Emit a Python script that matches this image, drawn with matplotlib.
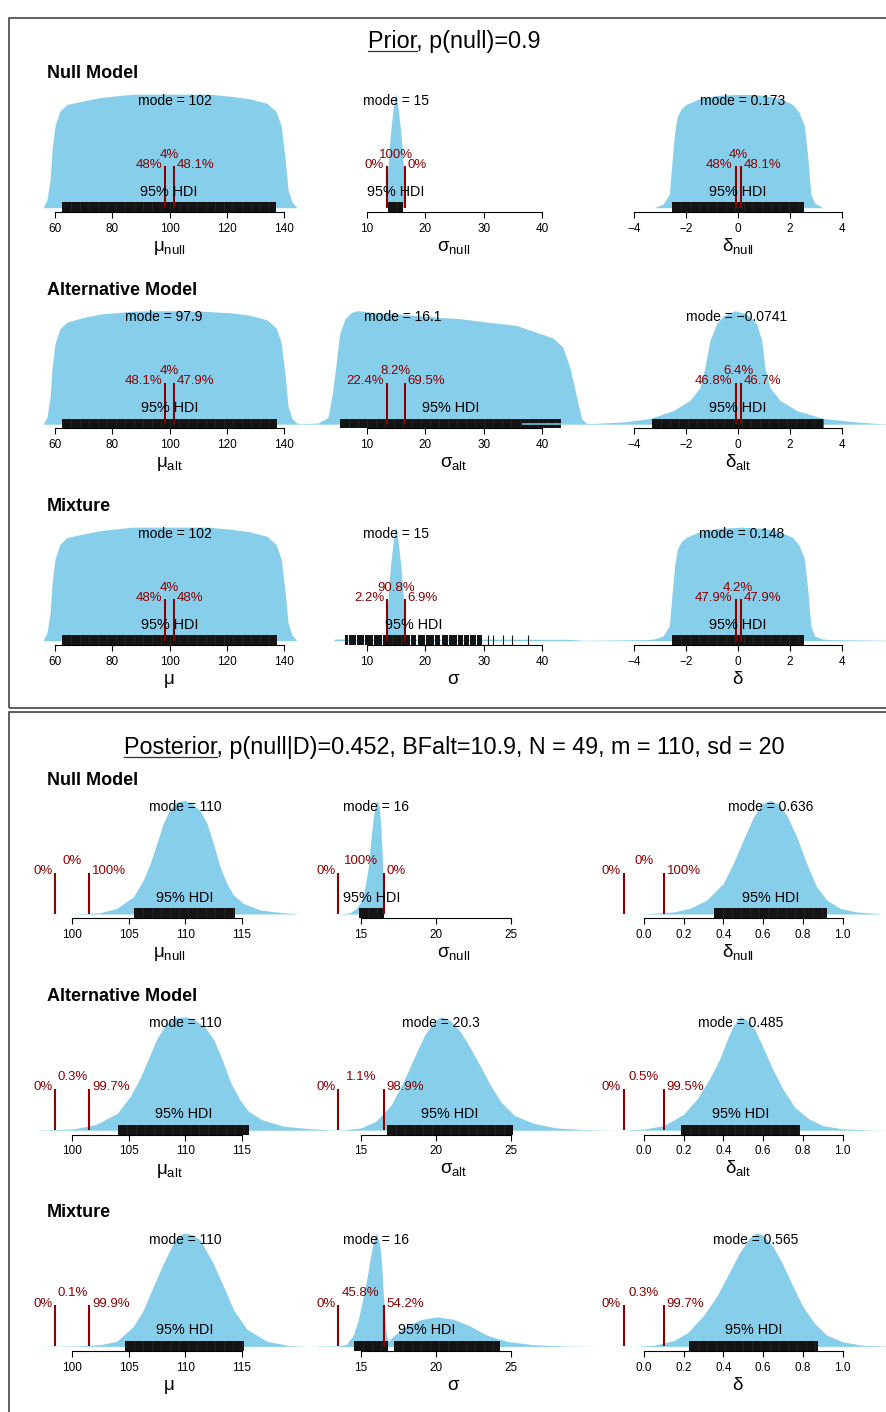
import matplotlib
matplotlib.use("Agg")
import matplotlib.pyplot as plt
from matplotlib.lines import Line2D
from matplotlib.patches import Rectangle
import numpy as np

plt.rcParams['font.family'] = ['Liberation Sans', 'DejaVu Sans']
plt.rcParams['mathtext.fontset'] = 'custom'
plt.rcParams['mathtext.rm'] = 'Liberation Sans'
plt.rcParams['mathtext.it'] = 'Liberation Sans'

# ---------------- data ----------------
# heights are relative to the tallest point of each density (peak = 1)
mu_rope = [98.5, 101.5]
sigma_rope = [13.5, 16.5]
delta_rope = [-0.1, 0.1]

prior_mu_ticks = [60, 80, 100, 120, 140]
prior_sigma_ticks = [10, 20, 30, 40]
prior_delta_ticks = [-4, -2, 0, 2, 4]
post_mu_ticks = [100, 105, 110, 115]
post_sigma_ticks = [15, 20, 25]
post_delta_ticks = [0.0, 0.2, 0.4, 0.6, 0.8, 1.0]

# prior, null model
pr_null_mu_x = [55.8, 57.2, 58.3, 59.0, 60.0, 61.7, 64.2, 69.8, 75.7, 87.0, 100.0, 114.0,
                122.0, 128.0, 134.0, 137.2, 139.0, 140.4, 141.4, 142.8, 144.5]
pr_null_mu_h = [0, 0.07, 0.25, 0.52, 0.72, 0.85, 0.91, 0.94, 0.97, 1.0, 1.0, 1.0,
                0.98, 0.96, 0.92, 0.85, 0.72, 0.43, 0.16, 0.05, 0]
pr_null_mu_hdi = [(62.4, 137.3)]
pr_null_mu_mode = 102
pr_null_mu_pct = ['48%', '4%', '48.1%']

pr_null_sigma_x = [13.45, 13.55, 13.8, 14.15, 14.5, 14.7, 14.85, 14.95, 15.05, 15.2, 15.4, 15.75,
                   16.1, 16.35, 16.45]
pr_null_sigma_h = [0, 0.3, 0.5, 0.7, 0.86, 0.94, 0.985, 1.0, 0.985, 0.94, 0.86, 0.7,
                   0.5, 0.3, 0]
pr_null_sigma_hdi = [(13.6, 16.15)]
pr_null_sigma_mode = 15
pr_null_sigma_pct = ['0%', '100%', '0%']

pr_null_delta_x = [-3.25, -2.9, -2.65, -2.55, -2.45, -2.35, -2.2, -2.0, -1.5, -0.8, 0.2, 1.0,
                   1.6, 2.1, 2.35, 2.55, 2.68, 2.8, 2.95, 3.25]
pr_null_delta_h = [0, 0.03, 0.12, 0.4, 0.65, 0.8, 0.87, 0.91, 0.96, 0.99, 1.0, 0.99,
                   0.96, 0.91, 0.84, 0.72, 0.45, 0.12, 0.04, 0]
pr_null_delta_hdi = [(-2.54, 2.53)]
pr_null_delta_mode = 0.173
pr_null_delta_pct = ['48%', '4%', '48.1%']

# prior, alternative model
pr_alt_mu_x = [55.8, 57.2, 58.3, 59.0, 60.0, 61.7, 64.2, 69.8, 75.7, 87.0, 97.9, 112.0,
               122.0, 128.0, 134.0, 137.2, 139.0, 140.4, 141.4, 142.8, 144.5, 146.0]
pr_alt_mu_h = [0, 0.06, 0.24, 0.5, 0.71, 0.84, 0.9, 0.94, 0.97, 0.995, 1.0, 0.995,
               0.98, 0.96, 0.92, 0.85, 0.72, 0.43, 0.16, 0.05, 0.01, 0]
pr_alt_mu_hdi = [(62.3, 137.6)]
pr_alt_mu_mode = 97.9
pr_alt_mu_pct = ['48.1%', '4%', '47.9%']

pr_alt_sigma_x = [-1.3, 1.7, 3.4, 4.2, 4.9, 5.4, 6.3, 7.4, 8.5, 12.0, 15.7, 19.0, 22.5, 25.9,
                  30.5, 35.6, 38.4, 41.8, 43.5, 44.7, 45.9, 46.7, 47.6, 50.0]
pr_alt_sigma_h = [0.005, 0.01, 0.06, 0.29, 0.59, 0.8, 0.93, 0.985, 1.0, 0.98, 0.97, 0.955, 0.94, 0.93,
                  0.9, 0.87, 0.82, 0.76, 0.68, 0.5, 0.23, 0.05, 0.005, 0]
pr_alt_sigma_hdi = [(5.45, 43.2)]
pr_alt_sigma_gap = [36.6, 43.2]
pr_alt_sigma_mode = 16.1
pr_alt_sigma_pct = ['22.4%', '8.2%', '69.5%']

pr_alt_delta_x = [-5.9, -5.71, -4.42, -3.4, -2.5, -1.86, -1.48, -1.28, -1.09, -0.83, -0.57, -0.12,
                  0.33, 0.71, 0.91, 1.03, 1.23, 1.61, 2.26, 3.28, 4.57, 5.46, 5.9]
pr_alt_delta_h = [0, 0.005, 0.02, 0.05, 0.12, 0.21, 0.32, 0.5, 0.735, 0.885, 0.955, 1.0,
                  0.97, 0.885, 0.735, 0.5, 0.32, 0.21, 0.12, 0.05, 0.02, 0.005, 0]
pr_alt_delta_hdi = [(-3.33, 3.28)]
pr_alt_delta_mode = -0.0741
pr_alt_delta_pct = ['46.8%', '6.4%', '46.7%']

# prior, mixture
pr_mix_mu_x = [55.8, 57.2, 58.3, 59.0, 60.0, 61.7, 64.2, 69.8, 75.7, 87.0, 102.0, 114.0,
               122.0, 128.0, 134.0, 137.2, 139.0, 140.4, 141.4, 142.8, 144.5]
pr_mix_mu_h = [0, 0.07, 0.25, 0.51, 0.72, 0.85, 0.91, 0.94, 0.97, 1.0, 1.0, 1.0,
               0.98, 0.96, 0.92, 0.85, 0.72, 0.43, 0.16, 0.05, 0]
pr_mix_mu_hdi = [(62.4, 137.5)]
pr_mix_mu_mode = 102
pr_mix_mu_pct = ['48%', '4%', '48%']

pr_mix_sigma_x = [4.3, 4.6, 13.3, 13.45, 13.55, 13.8, 14.15, 14.5, 14.7, 14.85, 14.95, 15.05,
                  15.2, 15.4, 15.75, 16.1, 16.35, 16.45, 16.6, 44.5, 48.0]
pr_mix_sigma_h = [0, 0.015, 0.015, 0.02, 0.3, 0.5, 0.7, 0.86, 0.94, 0.985, 1.0, 0.985,
                  0.94, 0.86, 0.7, 0.5, 0.3, 0.02, 0.015, 0.012, 0]
pr_mix_sigma_hdi = [(6.3, 6.8), (7.0, 8.1), (8.3, 9.5), (9.7, 11.0), (11.2, 12.6), (12.8, 17.4),
                    (17.6, 18.5), (18.7, 19.9), (20.1, 21.5), (21.7, 22.6), (22.8, 23.9),
                    (24.1, 25.4), (25.6, 26.4), (26.6, 27.5), (27.7, 28.7), (28.9, 29.65)]
pr_mix_sigma_rug = [30.8, 31.6, 33.3, 34.8, 37.6]
pr_mix_sigma_mode = 15
pr_mix_sigma_pct = ['2.2%', '90.8%', '6.9%']

pr_mix_delta_x = [-5.9, -3.5, -3.25, -2.9, -2.65, -2.55, -2.45, -2.35, -2.2, -2.0, -1.5, -0.8, 0.148,
                  1.0, 1.6, 2.1, 2.35, 2.55, 2.68, 2.8, 2.95, 3.25, 3.5, 5.9]
pr_mix_delta_h = [0.003, 0.01, 0.015, 0.04, 0.13, 0.4, 0.65, 0.8, 0.87, 0.91, 0.96, 0.99, 1.0,
                  0.99, 0.96, 0.91, 0.84, 0.72, 0.45, 0.13, 0.04, 0.015, 0.01, 0.003]
pr_mix_delta_hdi = [(-2.54, 2.54)]
pr_mix_delta_mode = 0.148
pr_mix_delta_pct = ['47.9%', '4.2%', '47.9%']

# posterior, null model
po_null_mu_x = [99.65, 102.46, 103.94, 105.41, 106.3, 106.9, 107.49, 108.07, 108.67, 109.26, 109.94,
                110.6, 111.33, 111.93, 112.51, 113.1, 113.7, 114.29, 115.17, 116.65, 118.7, 120.2]
po_null_mu_h = [0, 0.011, 0.05, 0.15, 0.3, 0.445, 0.62, 0.8, 0.93, 0.985, 1.0,
                0.975, 0.91, 0.8, 0.62, 0.415, 0.27, 0.167, 0.094, 0.035, 0.011, 0]
po_null_mu_hdi = [(105.5, 114.4)]
po_null_mu_mode = 110
po_null_mu_pct = ['0%', '0%', '100%']

po_null_sigma_x = [13.5, 14.27, 14.71, 15.05, 15.27, 15.49, 15.65, 15.82, 15.98, 16.08, 16.22,
                   16.33, 16.42, 16.48, 16.55]
po_null_sigma_h = [0, 0.011, 0.05, 0.123, 0.24, 0.415, 0.65, 0.853, 0.97, 1.0, 0.94,
                   0.74, 0.5, 0.21, 0]
po_null_sigma_hdi = [(14.89, 16.53)]
po_null_sigma_mode = 16
po_null_sigma_pct = ['0%', '100%', '0%']

po_null_delta_x = [-0.02, 0.149, 0.233, 0.317, 0.4, 0.45, 0.5, 0.551, 0.593, 0.635, 0.676, 0.719,
                   0.769, 0.819, 0.869, 0.92, 0.986, 1.07, 1.188]
po_null_delta_h = [0, 0.018, 0.05, 0.123, 0.27, 0.445, 0.65, 0.853, 0.97, 1.0, 0.97, 0.87,
                   0.68, 0.445, 0.24, 0.123, 0.05, 0.018, 0.003]
po_null_delta_hdi = [(0.352, 0.92)]
po_null_delta_mode = 0.636
po_null_delta_pct = ['0%', '0%', '100%']

# posterior, alternative model
po_alt_mu_x = [96.5, 100.1, 102.1, 104.0, 105.15, 105.94, 106.71, 107.47, 108.26, 109.03, 110.0,
               110.79, 111.74, 112.53, 113.29, 114.06, 114.85, 115.62, 116.77, 118.71, 121.4, 123.4]
po_alt_mu_h = [0, 0.011, 0.05, 0.15, 0.3, 0.445, 0.62, 0.8, 0.93, 0.985, 1.0,
               0.975, 0.91, 0.8, 0.62, 0.415, 0.27, 0.167, 0.094, 0.035, 0.011, 0]
po_alt_mu_hdi = [(104.05, 115.7)]
po_alt_mu_mode = 110
po_alt_mu_pct = ['0%', '0.3%', '99.7%']

po_alt_sigma_x = [13.0, 14.0, 15.0, 16.0, 17.0, 17.8, 18.5, 19.2, 19.8, 20.3, 20.9, 21.6, 22.3,
                  23.0, 23.6, 24.3, 25.2, 26.5, 28.0, 30.0, 32.0]
po_alt_sigma_h = [0, 0.005, 0.02, 0.08, 0.22, 0.42, 0.63, 0.83, 0.95, 1.0, 0.97, 0.87, 0.72,
                  0.55, 0.4, 0.25, 0.13, 0.06, 0.02, 0.005, 0]
po_alt_sigma_hdi = [(16.73, 25.1)]
po_alt_sigma_mode = 20.3
po_alt_sigma_pct = ['0%', '1.1%', '98.9%']

po_alt_delta_x = [-0.1, 0.0, 0.1, 0.2, 0.27, 0.33, 0.38, 0.42, 0.45, 0.485, 0.52, 0.56, 0.6,
                  0.65, 0.7, 0.76, 0.83, 0.9, 1.0, 1.15, 1.25]
po_alt_delta_h = [0, 0.01, 0.04, 0.14, 0.28, 0.45, 0.62, 0.8, 0.92, 1.0, 0.97, 0.88, 0.73,
                  0.53, 0.36, 0.2, 0.1, 0.04, 0.012, 0.002, 0]
po_alt_delta_hdi = [(0.187, 0.785)]
po_alt_delta_mode = 0.485
po_alt_delta_pct = ['0%', '0.5%', '99.5%']

# posterior, mixture
po_mix_mu_x = [96.0, 100.5, 102.46, 103.94, 105.4, 106.3, 107.19, 108.07, 108.96, 109.45, 109.94,
               110.6, 111.33, 112.5, 113.4, 114.3, 115.5, 117.25, 119.3, 121.0]
po_mix_mu_h = [0, 0.004, 0.015, 0.045, 0.175, 0.32, 0.53, 0.73, 0.91, 0.975, 1.0,
               0.985, 0.94, 0.73, 0.53, 0.32, 0.15, 0.045, 0.006, 0]
po_mix_mu_hdi = [(104.7, 115.2)]
po_mix_mu_mode = 110
po_mix_mu_pct = ['0%', '0.1%', '99.9%']

po_mix_sigma_x = [12.0, 13.5, 14.05, 14.49, 14.82, 15.15, 15.38, 15.6, 15.82, 16.04, 16.26, 16.38,
                  16.48, 16.6, 16.71, 16.82, 17.15, 18.04, 18.93, 20.04, 21.14, 22.25, 23.36,
                  24.69, 26.46, 28.69, 30.9]
po_mix_sigma_h = [0.003, 0.005, 0.02, 0.1, 0.235, 0.44, 0.59, 0.765, 0.925, 1.0, 0.88, 0.705,
                  0.47, 0.235, 0.09, 0.045, 0.09, 0.18, 0.235, 0.26, 0.24, 0.18, 0.1,
                  0.045, 0.015, 0.003, 0]
po_mix_sigma_hdi = [(14.55, 16.78), (17.2, 24.25)]
po_mix_sigma_mode = 16
po_mix_sigma_pct = ['0%', '45.8%', '54.2%']

po_mix_delta_x = [-0.05, 0.05, 0.15, 0.22, 0.3, 0.37, 0.43, 0.48, 0.53, 0.565, 0.6, 0.65, 0.7,
                  0.75, 0.8, 0.86, 0.92, 1.0, 1.1, 1.25]
po_mix_delta_h = [0, 0.01, 0.05, 0.12, 0.27, 0.45, 0.65, 0.82, 0.95, 1.0, 0.98, 0.88, 0.72,
                  0.53, 0.35, 0.2, 0.1, 0.04, 0.01, 0]
po_mix_delta_hdi = [(0.228, 0.876)]
po_mix_delta_mode = 0.565
po_mix_delta_pct = ['0%', '0.3%', '99.7%']

row_names = ['Null Model', 'Alternative Model', 'Mixture']
prior_title = ('Prior', ', p(null)=0.9')
post_title = ('Posterior', ', p(null|D)=0.452, BFalt=10.9, N = 49, m = 110, sd = 20')
xlabels = [[r'$\mu_{\mathrm{null}}$', r'$\sigma_{\mathrm{null}}$', r'$\delta_{\mathrm{null}}$'],
           [r'$\mu_{\mathrm{alt}}$', r'$\sigma_{\mathrm{alt}}$', r'$\delta_{\mathrm{alt}}$'],
           [r'$\mu$', r'$\sigma$', r'$\delta$']]

# ---------------- layout (pixels, top-left origin) ----------------
W, H = 886, 1412
BLUE = '#87CEEB'
RED = '#8B0000'
BAR = '#141414'
PEAK = 113.5          # pixel height of a density peak
AX_H = 150            # pixel height of each panel axes
col_edges = [(10, 298), (298, 590), (590, 886)]
label_cx = [169, 454, 738]
prior_cal = [(55, 284), (366.7, 542.3), (634.3, 842)]
post_cal = [(72.3, 241.5), (361, 511.3), (643.7, 842.7)]
prior_axis_y = [212, 428.5, 645]
post_axis_y = [918.3, 1134.5, 1350.7]

fig = plt.figure(figsize=(W / 100, H / 100), dpi=100)


def fy(y):
    return 1 - y / H


def fmt_num(v):
    return ('%g' % v).replace('-', '\u2212')


def tick_text(t, dec):
    s = ('%.1f' % t) if dec else ('%d' % t)
    return s.replace('-', '\u2212')


def panel(axis_y, col, cal, ticks, dec, x, h, hdi, mode, pct, rope,
          hdi_mid=None, rug=None, gap=None):
    L, R = col_edges[col]
    lift = 4.3 / PEAK
    ax = fig.add_axes([L / W, fy(axis_y), (R - L) / W, AX_H / H])
    p0, p1 = cal
    s = (p1 - p0) / (ticks[-1] - ticks[0])
    ax.set_xlim(ticks[0] + (L - p0) / s, ticks[0] + (R - p0) / s)
    ax.set_ylim(-lift, AX_H / PEAK - lift)
    ax.patch.set_visible(False)
    for k in ['left', 'right', 'top']:
        ax.spines[k].set_visible(False)
    ax.spines['bottom'].set_bounds(ticks[0], ticks[-1])
    ax.spines['bottom'].set_linewidth(0.8)
    ax.set_yticks([])
    ax.set_xticks(ticks)
    ax.set_xticklabels([tick_text(t, dec) for t in ticks], fontsize=8.5)
    ax.tick_params(axis='x', length=4.5, width=0.8, pad=3.3)

    ax.fill_between(x, 0, h, color=BLUE, lw=0, clip_on=False, zorder=1)

    # HDI bar
    for a, b in hdi:
        ax.fill_between([a, b], -lift, 5.6 / PEAK, color=BAR, lw=0, zorder=2, clip_on=False)
        step = 9 / s
        for xs in np.arange(a + step, b, step):
            ax.plot([xs, xs], [-lift, 5.6 / PEAK], color='#2c2c2c', lw=0.5, zorder=2.1)
    if rug:
        ax.vlines(rug, -lift, 5.6 / PEAK, colors=BAR, lw=0.8, zorder=2)
    if gap:
        ax.plot(gap, [0, 0], color=BLUE, lw=1.1, zorder=2.2, solid_capstyle='butt')
    if hdi_mid is None:
        hdi_mid = (hdi[0][0] + hdi[-1][1]) / 2
    ax.text(hdi_mid, 0.107, '95% HDI', ha='center', va='baseline', fontsize=10.4, zorder=5)

    # ROPE
    ax.vlines(rope, 0, 0.364, colors=RED, lw=1.5, zorder=4)
    ax.annotate(pct[0], (rope[0], 0.35), xytext=(-2.2, 0), textcoords='offset points',
                ha='right', va='baseline', color=RED, fontsize=9.5, zorder=5)
    ax.annotate(pct[1], ((rope[0] + rope[1]) / 2, 0.44), ha='center', va='baseline',
                color=RED, fontsize=9.5, zorder=5)
    ax.annotate(pct[2], (rope[1], 0.35), xytext=(2.2, 0), textcoords='offset points',
                ha='left', va='baseline', color=RED, fontsize=9.5, zorder=5)

    ax.text(mode, 0.905, 'mode = ' + fmt_num(mode), ha='center', va='baseline',
            fontsize=10, zorder=5)
    return ax


prior_rows = [
    [(pr_null_mu_x, pr_null_mu_h, pr_null_mu_hdi, pr_null_mu_mode, pr_null_mu_pct, {}),
     (pr_null_sigma_x, pr_null_sigma_h, pr_null_sigma_hdi, pr_null_sigma_mode, pr_null_sigma_pct, {}),
     (pr_null_delta_x, pr_null_delta_h, pr_null_delta_hdi, pr_null_delta_mode, pr_null_delta_pct, {})],
    [(pr_alt_mu_x, pr_alt_mu_h, pr_alt_mu_hdi, pr_alt_mu_mode, pr_alt_mu_pct, {}),
     (pr_alt_sigma_x, pr_alt_sigma_h, pr_alt_sigma_hdi, pr_alt_sigma_mode, pr_alt_sigma_pct,
      {'gap': pr_alt_sigma_gap}),
     (pr_alt_delta_x, pr_alt_delta_h, pr_alt_delta_hdi, pr_alt_delta_mode, pr_alt_delta_pct, {})],
    [(pr_mix_mu_x, pr_mix_mu_h, pr_mix_mu_hdi, pr_mix_mu_mode, pr_mix_mu_pct, {}),
     (pr_mix_sigma_x, pr_mix_sigma_h, pr_mix_sigma_hdi, pr_mix_sigma_mode, pr_mix_sigma_pct,
      {'rug': pr_mix_sigma_rug}),
     (pr_mix_delta_x, pr_mix_delta_h, pr_mix_delta_hdi, pr_mix_delta_mode, pr_mix_delta_pct, {})],
]
post_rows = [
    [(po_null_mu_x, po_null_mu_h, po_null_mu_hdi, po_null_mu_mode, po_null_mu_pct, {}),
     (po_null_sigma_x, po_null_sigma_h, po_null_sigma_hdi, po_null_sigma_mode, po_null_sigma_pct, {}),
     (po_null_delta_x, po_null_delta_h, po_null_delta_hdi, po_null_delta_mode, po_null_delta_pct, {})],
    [(po_alt_mu_x, po_alt_mu_h, po_alt_mu_hdi, po_alt_mu_mode, po_alt_mu_pct, {}),
     (po_alt_sigma_x, po_alt_sigma_h, po_alt_sigma_hdi, po_alt_sigma_mode, po_alt_sigma_pct, {}),
     (po_alt_delta_x, po_alt_delta_h, po_alt_delta_hdi, po_alt_delta_mode, po_alt_delta_pct, {})],
    [(po_mix_mu_x, po_mix_mu_h, po_mix_mu_hdi, po_mix_mu_mode, po_mix_mu_pct, {}),
     (po_mix_sigma_x, po_mix_sigma_h, po_mix_sigma_hdi, po_mix_sigma_mode, po_mix_sigma_pct, {}),
     (po_mix_delta_x, po_mix_delta_h, po_mix_delta_hdi, po_mix_delta_mode, po_mix_delta_pct, {})],
]

ropes = [mu_rope, sigma_rope, delta_rope]
prior_ticks = [prior_mu_ticks, prior_sigma_ticks, prior_delta_ticks]
post_ticks = [post_mu_ticks, post_sigma_ticks, post_delta_ticks]

for rows, axis_ys, cals, tick_sets, is_post in [(prior_rows, prior_axis_y, prior_cal, prior_ticks, False),
                                                (post_rows, post_axis_y, post_cal, post_ticks, True)]:
    for r, row in enumerate(rows):
        ay = axis_ys[r]
        fig.text(47 / W, fy(ay - 133.7), row_names[r], fontsize=13, fontweight='bold', va='baseline')
        for c, (x, h, hdi, mode, pct, extra) in enumerate(row):
            dec = is_post and c == 2
            panel(ay, c, cals[c], tick_sets[c], dec, x, h, hdi, mode, pct, ropes[c], **extra)
            fig.text(label_cx[c] / W, fy(ay + 39), xlabels[r][c], ha='center', va='baseline',
                     fontsize=13.5)

# boxes around the two groups
fig.add_artist(Rectangle((9 / W, fy(708)), 1.0, (708 - 18) / H, transform=fig.transFigure,
                         fill=False, edgecolor='#444444', lw=1.2))
fig.add_artist(Rectangle((9 / W, fy(1420)), 1.0, (1420 - 712) / H, transform=fig.transFigure,
                         fill=False, edgecolor='#444444', lw=1.2))

# titles with underlined first word
fig.canvas.draw()
renderer = fig.canvas.get_renderer()
for (word, rest), base_y in [(prior_title, 48), (post_title, 754)]:
    t = fig.text(454 / W, fy(base_y), word + rest, ha='center', va='baseline', fontsize=16.8)
    bb = t.get_window_extent(renderer)
    tmp = fig.text(0, 0, word, fontsize=16.8)
    wb = tmp.get_window_extent(renderer).width
    tmp.remove()
    fig.add_artist(Line2D([bb.x0 / W, (bb.x0 + wb) / W], [fy(base_y + 3)] * 2,
                          transform=fig.transFigure, color='#333333', lw=0.9))

fig.savefig('out.png', dpi=100)
